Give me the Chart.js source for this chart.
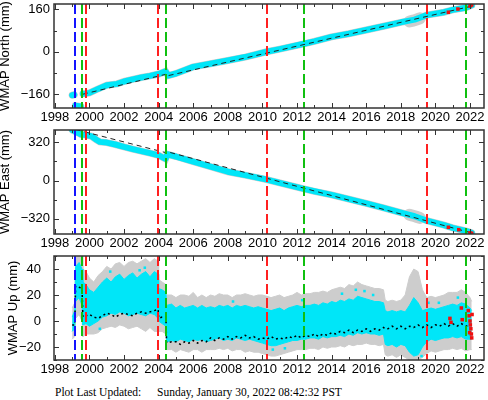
<!DOCTYPE html>
<html>
<head>
<meta charset="utf-8">
<script src="https://cdn.jsdelivr.net/npm/chart.js@4.4.1/dist/chart.umd.min.js"></script>
<style>
body{margin:0;background:#fff;width:488px;height:400px;overflow:hidden;position:relative}
canvas{position:absolute;left:0}
#c1{top:0}
#c2{top:126px}
#c3{top:252px}
.foot{position:absolute;top:386px;font-family:"Liberation Serif","Times New Roman",serif;font-size:11.5px;line-height:12px;white-space:pre;color:#000}
</style>
</head>
<body>
<canvas id="c1" width="488" height="126"></canvas>
<canvas id="c2" width="488" height="126"></canvas>
<canvas id="c3" width="488" height="126"></canvas>
<div class="foot" style="left:55px">Plot Last Updated:</div>
<div class="foot" style="left:157px">Sunday, January 30, 2022 08:42:32 PST</div>
<script>
// time axis (decimal years)
const xMin = 1997.95, xMax = 2022.81;

// event lines
const blueEvents = [1999.16];
const greenEvents = [1999.57, 2004.42, 2012.42, 2021.75];
const redEvents = [1999.8, 2003.98, 2010.25, 2019.5];

// North
const northT = [1999.0, 1999.12, 1999.14, 1999.18, 1999.5, 1999.55, 1999.62, 1999.8, 2000.0, 2000.5, 2001.0, 2001.6, 2002.0, 2002.5, 2003.0, 2003.5, 2004.0, 2004.4, 2004.55, 2005.0, 2006.0, 2007.0, 2008.0, 2009.0, 2010.25, 2011.0, 2012.4, 2013.0, 2014.0, 2015.0, 2016.0, 2017.0, 2018.0, 2018.8, 2019.5, 2020.5, 2021.0, 2021.75, 2022.1];
const northV = [-164, -162, null, -203, -206, null, -158, -157, -155, -140, -126, -121, -112, -104, -97, -91, -84, -74, -90, -82, -57, -45, -33, -20, 0, 10, 30, 39, 56, 68, 82, 96, 111, 121, 138, 149, 158, 166, 175];
const northTrendT = [1999.62, 2004.42, 2004.42, 2022.1];
const northTrendV = [-160, -85, -92, 172];
const northErrT = [2018.5, 2018.7, 2018.9, 2019.1];
const northErrV = [114, 117, 121, 126];
const northRedT = [2020.75, 2021.3, 2022.0, 2022.1];
const northRedV = [149, 161, 172, 176];

// East
const eastT = [1999.0, 1999.3, 1999.5, 1999.8, 2000.1, 2000.4, 2000.6, 2001.0, 2001.5, 2002.0, 2002.5, 2003.0, 2003.5, 2004.0, 2004.4, 2004.5, 2005.0, 2006.0, 2007.0, 2008.0, 2009.0, 2010.25, 2011.0, 2012.4, 2013.0, 2014.0, 2015.0, 2016.0, 2017.0, 2018.0, 2018.8, 2019.5, 2020.5, 2021.0, 2021.75, 2022.1];
const eastV = [421, 400, 385, 378, 370, 340, 322, 316, 300, 280, 262, 245, 228, 210, 180, 219, 200, 158, 115, 73, 45, 8, -20, -70, -90, -120, -155, -190, -228, -267, -298, -335, -372, -395, -420, -437];
const eastTrendT = [1999.2, 2004.42, 2004.42, 2022.1];
const eastTrendV = [425, 232, 243, -437];
const eastErrT = [2018.5, 2018.7, 2018.9, 2019.1];
const eastErrV = [-285, -293, -302, -312];
const eastRedT = [2020.75, 2021.35, 2022.0, 2022.1];
const eastRedV = [-390, -410, -437, -440];

// Up
const upT = [1999.0, 1999.15, 1999.2, 1999.4, 1999.57, 1999.62, 1999.8,
  2000.0, 2000.25, 2000.5, 2000.75, 2001.0, 2001.25, 2001.5, 2001.75, 2002.0, 2002.25, 2002.5, 2002.75, 2003.0, 2003.25, 2003.5, 2003.75, 2003.97,
  2004.0, 2004.2, 2004.42, 2004.46, 2004.75,
  2005.0, 2005.25, 2005.5, 2005.75, 2006.0, 2006.25, 2006.5, 2006.75, 2007.0, 2007.25, 2007.5, 2007.75, 2008.0, 2008.25, 2008.5, 2008.75,
  2009.0, 2009.25, 2009.5, 2009.75, 2010.0, 2010.25, 2010.5, 2010.75, 2011.0, 2011.25, 2011.5, 2011.75, 2012.0, 2012.25, 2012.5, 2012.75,
  2013.0, 2013.25, 2013.5, 2013.75, 2014.0, 2014.25, 2014.5, 2014.75, 2015.0, 2015.25, 2015.5, 2015.75, 2016.0, 2016.25, 2016.5, 2016.75, 2017.0,
  2017.1, 2017.25, 2017.5, 2017.75, 2018.0, 2018.25, 2018.5, 2018.75, 2019.0, 2019.25, 2019.5, 2019.75, 2020.0, 2020.25, 2020.5, 2020.75,
  2021.0, 2021.25, 2021.5, 2021.75, 2022.0, 2022.1];
const upHi = [3, 8, 42, 45, 40, 30, 28,
  24, 22, 26, 30, 33, 30, 34, 36, 32, 35, 37, 33, 36, 38, 34, 38, 36,
  25, 24, 22, 12, 13,
  10, 12, 10, 11, 12, 10, 12, 10, 11, 10, 12, 11, 12, 10, 12, 11,
  12, 11, 10, 11, 10, 9, 8, 9, 10, 8, 10, 11, 12, 11, 12, 12,
  13, 12, 14, 13, 15, 14, 16, 15, 17, 16, 19, 18, 17, 16, 15, 15, 14,
  8, 7, 8, 7, 8, 7, 12, 18, 14, 8, 9, 10, 9, 10, 11, 12,
  13, 12, 14, 13, 10, 8];
const upLo = [-8, -6, 15, 18, 12, -3, -2,
  -4, -2, 0, 3, 4, 6, 5, 7, 6, 4, 5, 6, 5, 4, 6, 5, 2,
  0, -2, -4, -16, -15,
  -16, -14, -15, -16, -14, -15, -14, -16, -15, -14, -13, -15, -14, -15, -13, -14,
  -15, -14, -15, -16, -17, -18, -19, -19, -18, -17, -16, -15, -15, -14, -14, -13,
  -13, -14, -12, -13, -12, -12, -11, -12, -10, -11, -9, -10, -9, -10, -10, -11, -10,
  -18, -19, -18, -20, -18, -19, -24, -27, -26, -20, -16, -14, -15, -14, -13, -13,
  -12, -13, -12, -14, -14, -14];
const upErrHi = [10, 14, 50, 50, 50, 40, 38,
  33, 30, 35, 38, 42, 40, 44, 45, 42, 45, 46, 44, 46, 48, 45, 48, 46,
  32, 30, 28, 20, 20,
  18, 20, 20, 19, 22, 18, 20, 18, 20, 19, 21, 20, 20, 18, 20, 20,
  21, 20, 19, 20, 20, 19, 18, 19, 20, 18, 19, 20, 22, 20, 21, 21,
  22, 22, 23, 22, 24, 25, 26, 25, 28, 27, 30, 28, 27, 26, 25, 25, 24,
  16, 15, 16, 15, 16, 20, 34, 40, 38, 24, 18, 19, 18, 19, 20, 22,
  22, 22, 24, 22, 18, 15];
const upErrLo = [-14, -12, 2, 5, 0, -12, -10,
  -10, -10, -9, -6, -5, -4, -5, -3, -4, -6, -5, -4, -6, -8, -5, -8, -8,
  -8, -8, -10, -22, -22,
  -24, -22, -23, -24, -22, -22, -24, -22, -22, -22, -21, -22, -21, -23, -22, -22,
  -24, -23, -24, -24, -25, -26, -27, -27, -26, -25, -24, -23, -22, -22, -22, -21,
  -21, -22, -20, -21, -20, -20, -19, -20, -18, -19, -18, -18, -17, -18, -18, -19, -18,
  -26, -27, -26, -28, -26, -28, -30, -30, -30, -28, -25, -23, -24, -23, -22, -22,
  -21, -22, -21, -23, -22, -22];
const upModel = [-3, -3, 27, 26, 25, 3, 4,
  5, 3, 2, 4, 6, 5, 3, 5, 6, 5, 4, 6, 7, 6, 7, 8, 9,
  2, 3, 3, -17, -16,
  -16, -18, -16, -17, -15, -17, -15, -16, -13, -15, -13, -14, -12, -14, -12, -13,
  -11, -13, -12, -14, -13, -14, -12, -14, -13, -14, -12, -13, -11, -13, -11, -12,
  -10, -12, -10, -11, -9, -10, -8, -9, -7, -9, -7, -8, -6, -8, -6, -7, -5,
  -6, -6, -4, -6, -4, -6, -4, -5, -3, -5, -3, -5, -3, -4, -2, -4,
  -2, -4, -2, -4, -3, -3];
const upOutT = [2000.6, 2001.2, 2002.9, 2003.2, 2008.3, 2010.6, 2011.3, 2012.3, 2014.6, 2015.4, 2015.9, 2016.4, 2019.2, 2019.6, 2020.2, 2021.3];
const upOutV = [-6, 38, 39, 41, 15, -22, -21, 16, 21, 24, 23, 20, -27, 14, 14, 18];
const upRedT = [2020.84, 2020.9, 2021.5, 2021.55, 2021.9, 2021.95, 2021.98, 2022.0, 2022.02, 2022.05, 2022.08, 2022.1, 2022.12];
const upRedV = [2, -1, 10, 1, 8, 4, -9, 0, -3, -6, -10, -13, 5];

const CYAN = '#00e6f8', GRAY = '#cdcdcd', RED = '#f01010';
Chart.defaults.font.family = '"Liberation Sans", Arial, Helvetica, sans-serif';
Chart.defaults.color = '#000';

function pts(xs, ys) { return xs.map((x, i) => ({x: x, y: ys[i]})); }

const framePlugin = {
  id: 'frame',
  afterDatasetsDraw(chart) {
    const ctx = chart.ctx, a = chart.chartArea, sx = chart.scales.x, sy = chart.scales.y;
    ctx.save();
    ctx.beginPath();
    ctx.rect(a.left, a.top, a.right - a.left, a.bottom - a.top);
    ctx.clip();
    ctx.lineWidth = 2;
    ctx.setLineDash([10, 4]);
    [[blueEvents, '#1414ff'], [greenEvents, '#10c010'], [redEvents, '#ff2020']].forEach(function (e) {
      ctx.strokeStyle = e[1];
      e[0].forEach(function (yr) {
        const px = Math.round(sx.getPixelForValue(yr));
        ctx.beginPath();
        ctx.moveTo(px, a.top);
        ctx.lineTo(px, a.bottom);
        ctx.stroke();
      });
    });
    ctx.restore();

    ctx.save();
    ctx.strokeStyle = '#333';
    ctx.lineWidth = 1;
    sy.ticks.forEach(function (t) {
      const py = Math.round(sy.getPixelForValue(t.value)) + 0.5;
      const len = t.label === '' ? 3 : 5;
      ctx.beginPath();
      ctx.moveTo(a.left, py); ctx.lineTo(a.left + len, py);
      ctx.moveTo(a.right, py); ctx.lineTo(a.right - len, py);
      ctx.stroke();
    });
    sx.ticks.forEach(function (t) {
      const px = Math.round(sx.getPixelForValue(t.value)) + 0.5;
      const len = t.label === '' ? 3 : 5;
      ctx.beginPath();
      ctx.moveTo(px, a.bottom); ctx.lineTo(px, a.bottom - len);
      ctx.moveTo(px, a.top); ctx.lineTo(px, a.top + len);
      ctx.stroke();
    });
    ctx.lineWidth = 1.5;
    ctx.strokeRect(a.left, a.top, a.right - a.left, a.bottom - a.top);
    ctx.restore();
  }
};

function panel(id, yMin, yMax, yStep, labelEvery, title, tickPad, titlePad, datasets) {
  return new Chart(document.getElementById(id), {
    type: 'line',
    data: {datasets: datasets},
    options: {
      responsive: false,
      animation: false,
      devicePixelRatio: 1,
      layout: {padding: {top: 1, right: 4, left: 0, bottom: 0}},
      plugins: {legend: {display: false}, tooltip: {enabled: false}},
      elements: {point: {radius: 0}, line: {tension: 0}},
      scales: {
        x: {
          type: 'linear', min: xMin, max: xMax,
          grid: {display: false, drawTicks: false}, border: {display: false},
          ticks: {
            stepSize: 1, autoSkip: false, includeBounds: false, maxRotation: 0, padding: 2,
            font: {size: 13},
            callback: function (v) { const r = Math.round(v); return r % 2 === 0 ? String(r) : ''; }
          },
          afterFit: function (s) { s.height = 18; s.paddingLeft = 0; s.paddingRight = 0; }
        },
        y: {
          min: yMin, max: yMax,
          grid: {display: false, drawTicks: false}, border: {display: false},
          ticks: {
            stepSize: yStep, autoSkip: false, includeBounds: false, padding: tickPad,
            font: {size: 13},
            callback: function (v) {
              if (Math.abs(v) % labelEvery !== 0) return '';
              return v < 0 ? '\u2212' + Math.abs(v) : String(v);
            }
          },
          title: {display: true, text: title, font: {size: 13, lineHeight: 1}, padding: {top: titlePad, bottom: 0}},
          afterFit: function (s) { s.width = 54; s.paddingTop = 0; s.paddingBottom = 0; }
        }
      }
    },
    plugins: [framePlugin]
  });
}

function redPts(xs, ys) {
  return {data: pts(xs, ys), showLine: false, pointRadius: 2.5, pointStyle: 'rect', backgroundColor: RED, borderWidth: 0};
}

panel('c1', -212, 180, 80, 160, 'WMAP North (mm)', 4, -1, [
  redPts(northRedT, northRedV),
  {data: pts(northTrendT, northTrendV), borderColor: '#222', borderWidth: 1, borderDash: [5, 4]},
  {data: pts(northT, northV), borderColor: CYAN, borderWidth: 6, borderCapStyle: 'round', borderJoinStyle: 'round'},
  {data: pts(northErrT, northErrV), borderColor: GRAY, borderWidth: 12, borderCapStyle: 'round'},
  {data: pts(northT, northV), borderColor: GRAY, borderWidth: 7, borderCapStyle: 'round'}
]);

panel('c2', -446, 421, 160, 320, 'WMAP East (mm)', 4, -1, [
  redPts(eastRedT, eastRedV),
  {data: pts(eastTrendT, eastTrendV), borderColor: '#222', borderWidth: 1, borderDash: [5, 4]},
  {data: pts(eastT, eastV), borderColor: CYAN, borderWidth: 6, borderCapStyle: 'round', borderJoinStyle: 'round'},
  {data: pts(eastErrT, eastErrV), borderColor: GRAY, borderWidth: 12, borderCapStyle: 'round'},
  {data: pts(eastT, eastV), borderColor: GRAY, borderWidth: 7, borderCapStyle: 'round'}
]);

panel('c3', -30, 50, 10, 20, 'WMAP Up (mm)', 13, 6.5, [
  redPts(upRedT, upRedV),
  {data: pts(upT, upModel), borderColor: '#000', borderWidth: 1.5, borderDash: [2, 3]},
  {data: pts(upOutT, upOutV), showLine: false, pointRadius: 1.8, pointStyle: 'rect', backgroundColor: CYAN, borderWidth: 0},
  {data: pts(upT, upHi), borderColor: CYAN, borderWidth: 1, backgroundColor: CYAN, fill: '+1'},
  {data: pts(upT, upLo), borderColor: CYAN, borderWidth: 1},
  {data: pts(upT, upErrHi), borderColor: GRAY, borderWidth: 1, backgroundColor: GRAY, fill: '+1'},
  {data: pts(upT, upErrLo), borderColor: GRAY, borderWidth: 1}
]);
</script>
</body>
</html>
